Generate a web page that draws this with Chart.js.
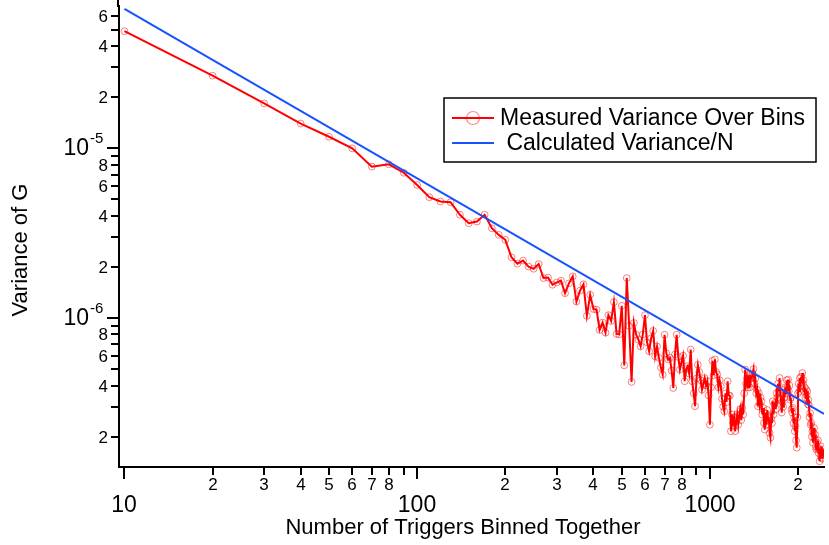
<!DOCTYPE html>
<html>
<head>
<meta charset="utf-8">
<title>Variance of G vs bin size</title>
<script src="https://cdn.jsdelivr.net/npm/chart.js@4.4.1/dist/chart.umd.min.js"></script>
<style>
  html, body { margin: 0; padding: 0; background: #ffffff; }
  canvas { display: block; }
</style>
</head>
<body>
<canvas id="chart" width="829" height="545"></canvas>
<script>
// Number of triggers binned together (x values of the measured series)
const binSizes = [
  10, 20, 30, 40, 50, 60, 70, 80, 90, 100,
  110, 120, 130, 140, 150, 160, 170, 180, 190, 200,
  210, 220, 230, 240, 250, 260, 270, 280, 290, 300,
  310, 320, 330, 340, 350, 360, 370, 380, 390, 400,
  410, 420, 430, 440, 450, 460, 470, 480, 490, 500,
  510, 520, 530, 540, 550, 560, 570, 580, 590, 600,
  610, 620, 630, 640, 650, 660, 670, 680, 690, 700,
  710, 720, 730, 740, 750, 760, 770, 780, 790, 800,
  810, 820, 830, 840, 850, 860, 870, 880, 890, 900,
  910, 920, 930, 940, 950, 960, 970, 980, 990, 1000,
  1010, 1020, 1030, 1040, 1050, 1060, 1070, 1080, 1090, 1100,
  1110, 1120, 1130, 1140, 1150, 1160, 1170, 1180, 1190, 1200,
  1210, 1220, 1230, 1240, 1250, 1260, 1270, 1280, 1290, 1300,
  1310, 1320, 1330, 1340, 1350, 1360, 1370, 1380, 1390, 1400,
  1410, 1420, 1430, 1440, 1450, 1460, 1470, 1480, 1490, 1500,
  1510, 1520, 1530, 1540, 1550, 1560, 1570, 1580, 1590, 1600,
  1610, 1620, 1630, 1640, 1650, 1660, 1670, 1680, 1690, 1700,
  1710, 1720, 1730, 1740, 1750, 1760, 1770, 1780, 1790, 1800,
  1810, 1820, 1830, 1840, 1850, 1860, 1870, 1880, 1890, 1900,
  1910, 1920, 1930, 1940, 1950, 1960, 1970, 1980, 1990, 2000,
  2010, 2020, 2030, 2040, 2050, 2060, 2070, 2080, 2090, 2100,
  2110, 2120, 2130, 2140, 2150, 2160, 2170, 2180, 2190, 2200,
  2210, 2220, 2230, 2240, 2250, 2260, 2270, 2280, 2290, 2300,
  2310, 2320, 2330, 2340, 2350, 2360, 2370, 2380, 2390, 2400,
  2410, 2420, 2430, 2440, 2450
];

// Measured variance of G over the bins
const measuredVariance = [
  4.90e-5, 2.68e-5, 1.84e-5, 1.40e-5, 1.17e-5, 1.00e-5, 7.80e-6, 8.05e-6, 7.18e-6, 6.08e-6,
  5.15e-6, 4.86e-6, 4.81e-6, 4.06e-6, 3.62e-6, 3.70e-6, 4.06e-6, 3.38e-6, 3.09e-6, 2.89e-6,
  2.28e-6, 2.09e-6, 2.18e-6, 2.01e-6, 1.95e-6, 2.08e-6, 1.72e-6, 1.73e-6, 1.57e-6, 1.62e-6,
  1.66e-6, 1.40e-6, 1.60e-6, 1.76e-6, 1.25e-6, 1.45e-6, 1.58e-6, 1.03e-6, 1.37e-6, 1.13e-6,
  1.12e-6, 8.50e-7, 9.40e-7, 8.20e-7, 1.04e-6, 9.60e-7, 1.24e-6, 8.05e-7, 8.00e-7, 1.18e-6,
  5.26e-7, 1.72e-6, 9.00e-7, 4.20e-7, 9.35e-7, 7.97e-7, 7.45e-7, 6.80e-7, 8.00e-7, 1.04e-6,
  7.20e-7, 6.37e-7, 7.60e-7, 8.40e-7, 5.94e-7, 6.80e-7, 5.82e-7, 5.10e-7, 4.64e-7, 7.97e-7,
  6.20e-7, 5.70e-7, 5.82e-7, 4.90e-7, 3.87e-7, 6.10e-7, 7.97e-7, 5.90e-7, 4.97e-7, 5.50e-7,
  6.00e-7, 4.24e-7, 5.00e-7, 5.20e-7, 4.70e-7, 6.52e-7, 4.24e-7, 3.60e-7, 3.02e-7, 4.40e-7,
  5.30e-7, 4.80e-7, 4.30e-7, 3.78e-7, 4.10e-7, 4.43e-7, 4.00e-7, 4.24e-7, 3.50e-7, 2.35e-7,
  3.90e-7, 5.60e-7, 4.60e-7, 5.70e-7, 4.80e-7, 4.64e-7, 3.90e-7, 4.30e-7, 3.96e-7, 3.34e-7,
  3.00e-7, 2.82e-7, 3.60e-7, 3.20e-7, 4.24e-7, 3.50e-7, 3.48e-7, 2.15e-7, 2.70e-7, 2.41e-7,
  2.60e-7, 2.15e-7, 2.45e-7, 2.70e-7, 2.35e-7, 2.65e-7, 2.90e-7, 2.50e-7, 2.95e-7, 2.70e-7,
  3.60e-7, 4.97e-7, 4.10e-7, 4.40e-7, 3.90e-7, 4.60e-7, 3.90e-7, 4.50e-7, 4.43e-7, 4.70e-7,
  5.00e-7, 4.10e-7, 4.40e-7, 3.60e-7, 3.78e-7, 3.02e-7, 3.60e-7, 3.10e-7, 3.40e-7, 3.23e-7,
  2.70e-7, 2.95e-7, 2.40e-7, 2.20e-7, 2.75e-7, 2.35e-7, 2.87e-7, 2.50e-7, 2.60e-7, 2.10e-7,
  1.97e-7, 2.55e-7, 2.40e-7, 3.23e-7, 2.70e-7, 3.10e-7, 3.16e-7, 2.90e-7, 3.60e-7, 3.40e-7,
  4.10e-7, 3.70e-7, 4.43e-7, 3.60e-7, 3.30e-7, 2.77e-7, 3.20e-7, 3.00e-7, 3.78e-7, 3.40e-7,
  3.90e-7, 3.60e-7, 4.30e-7, 3.90e-7, 4.34e-7, 3.70e-7, 4.00e-7, 3.30e-7, 3.39e-7, 2.90e-7,
  2.77e-7, 2.95e-7, 2.40e-7, 2.60e-7, 2.15e-7, 2.30e-7, 1.90e-7, 1.72e-7, 2.60e-7, 3.60e-7,
  4.10e-7, 3.70e-7, 4.43e-7, 4.00e-7, 4.50e-7, 4.20e-7, 4.74e-7, 4.10e-7, 4.30e-7, 3.70e-7,
  3.90e-7, 3.40e-7, 3.80e-7, 3.50e-7, 3.70e-7, 3.10e-7, 3.30e-7, 3.07e-7, 2.60e-7, 2.75e-7,
  2.35e-7, 2.41e-7, 2.00e-7, 2.15e-7, 1.84e-7, 2.10e-7, 2.25e-7, 1.95e-7, 2.05e-7, 1.75e-7,
  1.68e-7, 1.85e-7, 1.70e-7, 1.90e-7, 1.60e-7, 1.70e-7, 1.43e-7, 1.65e-7, 1.55e-7, 1.75e-7,
  1.50e-7, 1.62e-7, 1.48e-7, 1.68e-7, 1.55e-7
];

// Calculated variance divided by N (straight line in log-log space)
const calcBinSizes = [10, 2454];
const calcVariance = [6.64e-5, 2.72e-7];

// Axis ranges and tick labelling
const xRange = [9.58, 2454];
const yRange = [1.324e-7, 6.9e-5];
const xDecades = [1, 2, 3];
const yDecades = [-7, -6, -5, -4];
const xMajorLabels = ['10', '100', '1000'];
const xMinorLabelled = [2, 3, 4, 5, 6, 7, 8];
const yMinorLabelled = [2, 4, 6, 8];

const legendItems = ['Measured Variance Over Bins', ' Calculated Variance/N'];

const FONT = "'Liberation Sans', Arial, Helvetica, sans-serif";
const RED = 'rgb(255,0,0)';
const BLUE = 'rgb(24,82,255)';

const measuredPoints = binSizes.map((n, i) => ({ x: n, y: measuredVariance[i] }));
const calcPoints = calcBinSizes.map((n, i) => ({ x: n, y: calcVariance[i] }));

// Igor-style axes: outward ticks, mantissa labels, 10^n majors with superscripts
const axisDecor = {
  id: 'axisDecor',
  afterDraw(chart) {
    const ctx = chart.ctx;
    const xs = chart.scales.x;
    const ys = chart.scales.y;
    const area = chart.chartArea;
    ctx.save();
    ctx.strokeStyle = '#000';
    ctx.fillStyle = '#000';
    ctx.lineWidth = 2;

    // extend the vertical axis line to the top edge
    ctx.beginPath();
    ctx.moveTo(area.left - 1, 0);
    ctx.lineTo(area.left - 1, area.top + 1);
    ctx.stroke();

    // y axis ticks and labels
    yDecades.forEach(d => {
      for (let m = 1; m <= 9; m++) {
        const v = m * Math.pow(10, d);
        if (v < ys.min * 0.999 || v > ys.max * 1.001) continue;
        const y = Math.round(ys.getPixelForValue(v));
        const len = m === 1 ? 11 : 7;
        ctx.beginPath();
        ctx.moveTo(area.left - 1 - len, y);
        ctx.lineTo(area.left - 1, y);
        ctx.stroke();
        if (m === 1) {
          ctx.font = '23px ' + FONT;
          ctx.textAlign = 'right';
          ctx.textBaseline = 'middle';
          ctx.fillText('10', 89, y + 1);
          ctx.font = '15px ' + FONT;
          ctx.textAlign = 'left';
          ctx.fillText(String(d), 90, y - 9);
        } else if (yMinorLabelled.includes(m)) {
          ctx.font = '17px ' + FONT;
          ctx.textAlign = 'right';
          ctx.textBaseline = 'middle';
          ctx.fillText(String(m), 108, y + 1);
        }
      }
    });

    // x axis ticks and labels
    xDecades.forEach((d, di) => {
      for (let m = 1; m <= 9; m++) {
        const v = m * Math.pow(10, d);
        if (v < xs.min * 0.999 || v > xs.max * 1.001) continue;
        const x = Math.round(xs.getPixelForValue(v));
        const len = m === 1 ? 11 : 7;
        ctx.beginPath();
        ctx.moveTo(x, area.bottom + 1);
        ctx.lineTo(x, area.bottom + 1 + len);
        ctx.stroke();
        ctx.textAlign = 'center';
        ctx.textBaseline = 'middle';
        if (m === 1) {
          ctx.font = '23px ' + FONT;
          ctx.fillText(xMajorLabels[di], x, area.bottom + 39);
        } else if (xMinorLabelled.includes(m)) {
          ctx.font = '17px ' + FONT;
          ctx.fillText(String(m), x, area.bottom + 18);
        }
      }
    });

    // axis titles
    ctx.font = '22px ' + FONT;
    ctx.textAlign = 'center';
    ctx.textBaseline = 'middle';
    ctx.fillText('Number of Triggers Binned Together', 463, 528);
    ctx.save();
    ctx.translate(21, 250);
    ctx.rotate(-Math.PI / 2);
    ctx.fillText('Variance of G', 0, 0);
    ctx.restore();

    // legend box
    ctx.lineWidth = 1.5;
    ctx.strokeRect(444, 98, 372, 64);
    ctx.lineWidth = 2;
    ctx.strokeStyle = RED;
    ctx.beginPath(); ctx.moveTo(452, 118); ctx.lineTo(494, 118); ctx.stroke();
    ctx.lineWidth = 1.2;
    ctx.strokeStyle = 'rgba(255,0,0,0.45)';
    ctx.beginPath(); ctx.arc(473, 118, 6.5, 0, Math.PI * 2); ctx.stroke();
    ctx.lineWidth = 2;
    ctx.strokeStyle = BLUE;
    ctx.beginPath(); ctx.moveTo(452, 143); ctx.lineTo(494, 143); ctx.stroke();
    ctx.fillStyle = '#000';
    ctx.font = '23px ' + FONT;
    ctx.textAlign = 'left';
    ctx.fillText(legendItems[0], 500, 119);
    ctx.fillText(legendItems[1], 500, 144);
    ctx.restore();
  }
};

new Chart(document.getElementById('chart'), {
  type: 'scatter',
  data: {
    datasets: [
      {
        label: 'Measured Variance Over Bins',
        data: measuredPoints,
        showLine: true,
        borderColor: RED,
        borderWidth: 2,
        pointRadius: 3.4,
        pointBorderWidth: 1,
        pointBorderColor: 'rgba(255,0,0,0.5)',
        pointBackgroundColor: 'rgba(255,255,255,0)',
        tension: 0,
        order: 2
      },
      {
        label: 'Calculated Variance/N',
        data: calcPoints,
        showLine: true,
        borderColor: BLUE,
        borderWidth: 2,
        pointRadius: 0,
        tension: 0,
        order: 1
      }
    ]
  },
  options: {
    responsive: false,
    animation: false,
    layout: { padding: { top: 6, right: 0, bottom: 0, left: 0 } },
    plugins: { legend: { display: false }, tooltip: { enabled: false } },
    scales: {
      x: {
        type: 'logarithmic',
        min: xRange[0],
        max: xRange[1],
        grid: { display: false },
        ticks: { display: false },
        border: { display: true, color: '#000', width: 2 },
        afterFit(scale) { scale.height = 78; }
      },
      y: {
        type: 'logarithmic',
        min: yRange[0],
        max: yRange[1],
        grid: { display: false },
        ticks: { display: false },
        border: { display: true, color: '#000', width: 2 },
        afterFit(scale) { scale.width = 119; }
      }
    }
  },
  plugins: [axisDecor]
});
</script>
</body>
</html>
